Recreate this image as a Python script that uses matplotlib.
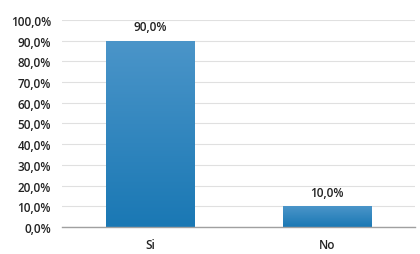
import matplotlib
matplotlib.use('Agg')
import matplotlib.pyplot as plt
import numpy as np
from matplotlib.ticker import FuncFormatter, MultipleLocator
from matplotlib.colors import LinearSegmentedColormap

categories = ['Si', 'No']
values = [90.0, 10.0]

plt.rcParams['font.family'] = ['Open Sans', 'DejaVu Sans']
plt.rcParams['font.weight'] = 'semibold'

fig = plt.figure(figsize=(4.2, 2.55), dpi=100)
ax = fig.add_axes([0.148, 0.106, 0.84, 0.812])

x = np.arange(len(categories))
bars = ax.bar(x, values, width=0.5, color='#2a86c0', edgecolor='#9aa4ad',
              linewidth=0.6, zorder=2)

# vertical gradient inside each bar
cmap = LinearSegmentedColormap.from_list('g', ['#1a78b4', '#4b95c9'])
grad = np.linspace(0, 1, 256).reshape(-1, 1)
for b in bars:
    bx, by = b.get_x(), b.get_y()
    w, h = b.get_width(), b.get_height()
    im = ax.imshow(grad, cmap=cmap, aspect='auto', origin='lower',
                   extent=[bx, bx + w, by, by + h], zorder=2.5)
    im.set_clip_path(b)

for xi, v in zip(x, values):
    ax.text(xi, v + 3.5, f'{v:.1f}%'.replace('.', ','), ha='center', va='bottom',
            fontsize=8.5, color='#222222', fontweight='semibold')

ax.set_xlim(-0.5, 1.5)
ax.set_ylim(0, 100)
ax.yaxis.set_major_locator(MultipleLocator(10))
ax.yaxis.set_major_formatter(FuncFormatter(lambda v, p: f'{v:.1f}%'.replace('.', ',')))
ax.set_xticks(x)
ax.set_xticklabels(categories)
ax.tick_params(axis='both', length=0, labelsize=8.5, colors='#222222')
ax.tick_params(axis='x', pad=8)
ax.tick_params(axis='y', pad=8)
ax.grid(axis='y', color='#e0e0e0', linewidth=0.8, zorder=0)
for s in ['top', 'right', 'left']:
    ax.spines[s].set_visible(False)
ax.spines['bottom'].set_color('#a0a0a0')
ax.spines['bottom'].set_linewidth(1.0)

fig.savefig('out.png', dpi=100)
